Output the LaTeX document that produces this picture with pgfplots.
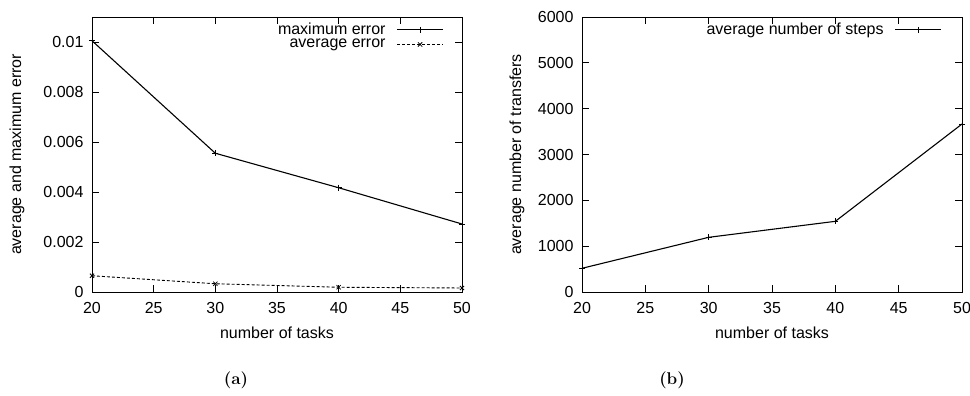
\documentclass[border=0pt]{standalone}
\usepackage{pgfplots}
\pgfplotsset{compat=1.18}
\usepackage{fontspec}
\newfontfamily\arial{Liberation Sans}
\newcommand\gpfont{\arial\fontsize{16bp}{19bp}\selectfont}
\pgfplotsset{
  gp/.style={
    scale only axis, clip=false,
    xmin=20, xmax=50, xtick={20,25,30,35,40,45,50},
    scaled y ticks=false, scaled x ticks=false,
    tick align=inside, major tick length=7bp,
    axis line style={line width=0.9bp}, tick style={line width=0.8bp, black},
    /pgf/number format/assume math mode=true,
    tick label style={font=\gpfont},
    xticklabel style={yshift=-7bp},
    yticklabel style={xshift=-5bp},
    label style={font=\gpfont},
    legend style={draw=none, fill=none, font=\gpfont,
      at={(axis description cs:0.951,0.985)}, anchor=north east,
      row sep=-1bp, column sep=9bp, inner sep=0pt},
    legend cell align=right,
    legend plot pos=right,
    legend image code/.code={\draw[mark repeat=2,mark phase=2,##1] plot coordinates {(0bp,0bp) (23bp,0bp) (46bp,0bp)};},
    xlabel={number of tasks},
    x label style={at={(axis description cs:0.5,-0.149)}, anchor=center},
  }
}
\begin{document}
\begin{tikzpicture}[font=\gpfont]
\path[use as bounding box] (0,0) rectangle (970bp,396bp);
\begin{axis}[gp,
  at={(92bp,104bp)}, anchor=south west,
  width=370bp, height=275bp,
  ymin=0, ymax=0.011,
  ytick={0,0.002,0.004,0.006,0.008,0.01},
  yticklabels={0,0.002,0.004,0.006,0.008,0.01},
  ylabel={average and maximum error},
  y label style={at={(axis description cs:-0.2027,0.5)}, anchor=center},
]
\addplot[black, line width=1.1bp, mark=+, mark size=3bp, mark options={solid,line width=0.8bp}]
  coordinates {(20,0.01005) (30,0.00555) (40,0.00417) (50,0.00272)};
\addlegendentry{maximum error}
\addplot[black, line width=0.9bp, dash pattern=on 3bp off 2bp, mark=x, mark size=3bp, mark options={solid,line width=0.8bp}]
  coordinates {(20,0.00065) (30,0.00033) (40,0.00019) (50,0.00016)};
\addlegendentry{average error}
\end{axis}
\begin{axis}[gp,
  at={(582bp,104bp)}, anchor=south west,
  width=380bp, height=275bp,
  ymin=0, ymax=6000,
  ytick={0,1000,2000,3000,4000,5000,6000},
  yticklabels={0,1000,2000,3000,4000,5000,6000},
  ylabel={average number of transfers},
  y label style={at={(axis description cs:-0.171,0.5)}, anchor=center},
  legend style={at={(axis description cs:0.947,0.985)}},
]
\addplot[black, line width=1.1bp, mark=+, mark size=3bp, mark options={solid,line width=0.8bp}]
  coordinates {(20,517) (30,1193) (40,1542) (50,3665)};
\addlegendentry{average number of steps}
\end{axis}
\node[font=\normalfont\bfseries\fontsize{17bp}{20bp}\selectfont] at (236bp,16bp) {(a)};
\node[font=\normalfont\bfseries\fontsize{17bp}{20bp}\selectfont] at (672bp,16bp) {(b)};
\end{tikzpicture}
\end{document}
